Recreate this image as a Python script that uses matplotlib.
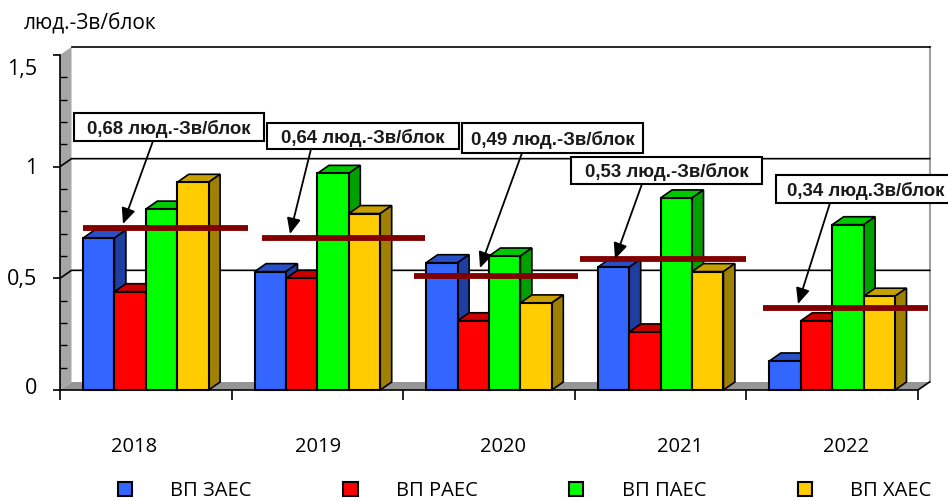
import matplotlib
matplotlib.use("Agg")
import matplotlib.pyplot as plt
from matplotlib.patches import Polygon, Rectangle
from matplotlib.ticker import MultipleLocator

# Values
years = ["2018", "2019", "2020", "2021", "2022"]
zaes = [0.68, 0.53, 0.57, 0.55, 0.13]
raes = [0.44, 0.50, 0.31, 0.26, 0.31]
paes = [0.81, 0.97, 0.60, 0.86, 0.74]
haes = [0.93, 0.79, 0.39, 0.53, 0.42]
avg_lines = [0.725, 0.68, 0.51, 0.585, 0.365]
avg_labels = ["0,68 люд.-Зв/блок", "0,64 люд.-Зв/блок", "0,49 люд.-Зв/блок",
              "0,53 люд.-Зв/блок", "0,34 люд.Зв/блок"]
names = ["ВП ЗАЕС", "ВП РАЕС", "ВП ПАЕС", "ВП ХАЕС"]
y_ticks = [0, 0.5, 1, 1.5]
y_tick_labels = ["0", "0,5", "1", "1,5"]

# Layout
W, H = 948, 501
X0, X1, Y0, Y15 = 60, 918, 390, 55
front = ["#3366FF", "#FF0000", "#00FF00", "#FFCC00"]
top = ["#2A50C8", "#C80000", "#00C800", "#C8A000"]
side = ["#1F3FA0", "#A00000", "#00A000", "#A08000"]
bar_w = 0.183
DX = 11.5 / 171.6
DY = 8 / 223.3
# everything below is in picture pixels
line_px = [(83, 248), (262, 425), (414, 578), (580, 746), (763, 928)]
box_px = [(74, 113, 264, 141), (267, 123, 459, 149), (462, 123, 643, 153),
          (571, 157, 762, 184), (776, 175, 954, 203)]
text_px = [(169, 129), (363, 138), (553, 140), (667, 172), (866, 191)]
arrow_from = [(153, 141), (311, 149), (522, 153), (642, 184), (830, 203)]
arrow_to = [(123, 224), (290, 234), (480, 268), (615, 259), (798, 304)]
year_px = [134, 318, 503, 680, 846]
y_label_py = [389, 280, 169, 69]


def px(x, y):
    return (x - X0) / (X1 - X0) * 5, (Y0 - y) / (Y0 - Y15) * 1.5


fig = plt.figure(figsize=(W / 100, H / 100), dpi=100)
ax = fig.add_axes([X0 / W, 1 - Y0 / H, (X1 - X0) / W, (Y0 - Y15) / H])
ax.set_xlim(0, 5)
ax.set_ylim(0, 1.5)

# Walls and floor
ax.add_patch(Polygon([(0, 0), (DX, DY), (DX, 1.5 + DY), (0, 1.5)], fc="#A6A6A6", ec="none",
                     clip_on=False, zorder=1))
ax.add_patch(Polygon([(0, 0), (5, 0), (5 + DX, DY), (DX, DY)], fc="#969696", ec="none",
                     clip_on=False, zorder=1))
ax.plot([5 + DX, 5 + DX], [DY, 1.5 + DY], color="#A0A0A0", lw=1.5, clip_on=False, zorder=1)
ax.plot([5, 5 + DX], [0, DY], color="black", lw=1.2, clip_on=False, zorder=1)
for v in [0.5, 1.0]:
    ax.plot([0, DX, 5 + DX], [v, v + DY, v + DY], color="black", lw=1.2, clip_on=False, zorder=1)
ax.plot([DX, 5 + DX], [1.5 + DY, 1.5 + DY], color="black", lw=1.2, clip_on=False, zorder=1)

# Bars, left to right so each front covers the side of the one before it
series = [zaes, raes, paes, haes]
z = 2
for g in range(len(years)):
    for s in range(4):
        val = series[s][g]
        x = g + 0.5 + (s - 2) * bar_w
        ax.bar(x, val, bar_w, align="edge", color=front[s], edgecolor="black", lw=1.5,
               zorder=z + 2, clip_on=False, label=names[s] if g == 0 else None)
        ax.add_patch(Polygon([(x, val), (x + DX, val + DY), (x + bar_w + DX, val + DY), (x + bar_w, val)],
                             fc=top[s], ec="black", lw=1.2, zorder=z, clip_on=False))
        ax.add_patch(Polygon([(x + bar_w, 0), (x + bar_w + DX, DY), (x + bar_w + DX, val + DY), (x + bar_w, val)],
                             fc=side[s], ec="black", lw=1.2, zorder=z + 1, clip_on=False))
        z += 3

# Average lines and their callouts
for g, v in enumerate(avg_lines):
    x_a = px(line_px[g][0], 0)[0]
    x_b = px(line_px[g][1], 0)[0]
    ax.plot([x_a, x_b], [v, v], color="#800000", lw=4.2, solid_capstyle="butt",
            clip_on=False, zorder=z)
    ax.annotate("", xy=px(*arrow_to[g]), xytext=px(*arrow_from[g]), zorder=z + 1,
                annotation_clip=False,
                arrowprops=dict(arrowstyle="-|>,head_length=0.95,head_width=0.42", color="black",
                                lw=1.3, shrinkA=0, shrinkB=0))
    left, upper, right, lower = box_px[g]
    bx, by = px(left, lower)
    bx2, by2 = px(right, upper)
    ax.add_patch(Rectangle((bx, by), bx2 - bx, by2 - by, fc="white", ec="black", lw=1.5,
                           clip_on=False, zorder=z + 2))
    ax.text(*px(*text_px[g]), avg_labels[g], ha="center", va="center", fontsize=13.4, fontweight="bold",
            family="Liberation Sans", color="#1a1a1a", zorder=z + 3, clip_on=False)

# Axes
for name in ["top", "right"]:
    ax.spines[name].set_visible(False)
ax.spines["left"].set_linewidth(1.2)
ax.spines["bottom"].set_linewidth(1.2)
ax.spines["left"].set_zorder(z)
ax.spines["bottom"].set_zorder(z)
ax.yaxis.set_major_locator(MultipleLocator(0.5))
ax.yaxis.set_minor_locator(MultipleLocator(0.1))
ax.set_yticks(y_ticks)
ax.set_yticklabels([])
ax.tick_params(axis="y", which="major", length=5, width=1.2)
ax.tick_params(axis="y", which="minor", length=5, width=1.0, direction="in")
ax.set_xticks(range(6))
ax.set_xticklabels([])
ax.tick_params(axis="x", which="major", length=7, width=1.2)
for label, py in zip(y_tick_labels, y_label_py):
    ax.text(px(37, 0)[0], px(0, py)[1], label, ha="right", va="center", family="Open Sans",
            fontsize=15.5, clip_on=False)
for g, year in enumerate(years):
    ax.text(px(year_px[g], 0)[0], px(0, 447)[1], year, ha="center", va="center",
            family="Open Sans", fontsize=14.5)
ax.text(*px(24, 24), "люд.-Зв/блок", ha="left", va="center", family="Open Sans", fontsize=15,
        clip_on=False)

# Legend sits close to the bottom edge as in the original
ax.legend(loc="lower left", bbox_to_anchor=(118 / W, 0), bbox_transform=fig.transFigure,
          ncol=4, frameon=False, prop={"family": "Open Sans", "size": 14.5},
          handlelength=0.7, handleheight=0.7, handletextpad=1.9, columnspacing=4.55,
          borderpad=0, borderaxespad=0)

fig.savefig("out.png", dpi=100)
